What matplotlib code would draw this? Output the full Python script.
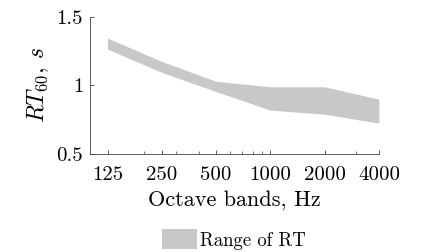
import matplotlib
matplotlib.use("Agg")
import matplotlib.pyplot as plt
from matplotlib.patches import Patch
from matplotlib.ticker import FixedLocator, FixedFormatter, LogLocator, NullFormatter

bands = [125, 250, 500, 1000, 2000, 4000]
band_labels = ["125", "250", "500", "1000", "2000", "4000"]
rt_upper = [1.345, 1.175, 1.03, 0.99, 0.99, 0.9]
rt_lower = [1.265, 1.095, 0.955, 0.82, 0.79, 0.725]
y_ticks = [0.5, 1.0, 1.5]
y_labels = ["0.5", "1", "1.5"]

plt.rcParams['font.family'] = 'serif'
plt.rcParams['font.serif'] = ['cmr10']
plt.rcParams['mathtext.fontset'] = 'cm'
plt.rcParams['axes.formatter.use_mathtext'] = True

fig = plt.figure(figsize=(4.33, 2.52), dpi=100)
ax = fig.add_axes([0.208, 0.389, 0.667, 0.544])
ax.fill_between(bands, rt_lower, rt_upper, color='#c8c8c8', linewidth=0, label='Range of RT')
ax.set_xscale('log')
ax.set_xlim(100, 4000)
ax.set_ylim(0.5, 1.5)
ax.xaxis.set_major_locator(FixedLocator(bands))
ax.xaxis.set_major_formatter(FixedFormatter(band_labels))
ax.xaxis.set_minor_locator(LogLocator(base=10, subs=range(2, 10)))
ax.xaxis.set_minor_formatter(NullFormatter())
ax.yaxis.set_major_locator(FixedLocator(y_ticks))
ax.yaxis.set_major_formatter(FixedFormatter(y_labels))
for s in ['top', 'right']:
    ax.spines[s].set_visible(False)
for s in ['left', 'bottom']:
    ax.spines[s].set_color('#444444')
    ax.spines[s].set_linewidth(0.6)
ax.tick_params(which='major', direction='in', length=3, width=0.6, color='#444444', labelsize=15)
ax.tick_params(axis='x', which='major', pad=9)
ax.tick_params(axis='y', which='major', pad=5)
ax.tick_params(which='minor', direction='in', length=2, width=0.5, color='#444444')
ax.set_xlabel('Octave bands, Hz', fontsize=16, labelpad=4)
ax.set_ylabel('$RT_{60}$, $s$', fontsize=17, labelpad=4)

handles = [Patch(facecolor='#c8c8c8', edgecolor='none', label='Range of RT')]
fig.legend(handles=handles, loc='center', bbox_to_anchor=(0.54, 0.05), frameon=False,
           fontsize=13.5, handlelength=1.9, handleheight=1.25, handletextpad=0.15)
fig.savefig('out.png', dpi=100)
